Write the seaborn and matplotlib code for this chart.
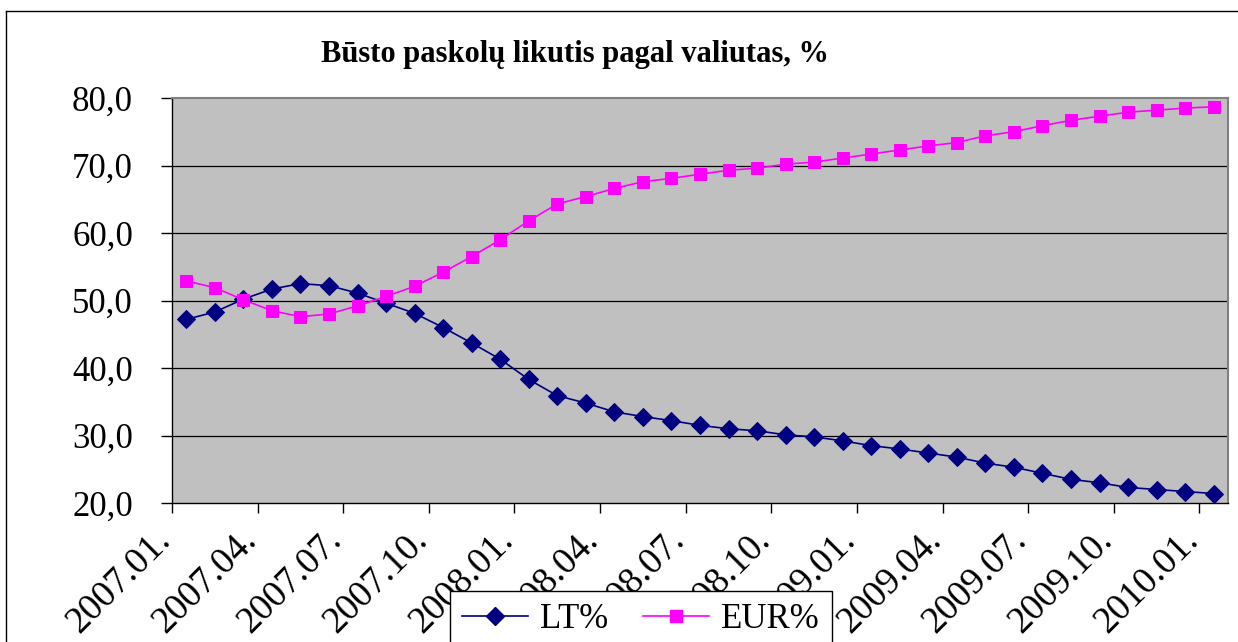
import matplotlib
matplotlib.use("Agg")
import matplotlib.pyplot as plt
from matplotlib.lines import Line2D
import numpy as np
import pandas as pd
import seaborn as sns

title = "Būsto paskolų likutis pagal valiutas, %"
series_names = ["LT%", "EUR%"]
tick_labels = ["2007.01.", "2007.04.", "2007.07.", "2007.10.", "2008.01.", "2008.04.",
               "2008.07.", "2008.10.", "2009.01.", "2009.04.", "2009.07.", "2009.10.",
               "2010.01."]
lt_values = [47.2, 48.3, 50.2, 51.7, 52.5, 52.2, 51.1, 49.6, 48.1, 46.0, 43.7, 41.3,
             38.3, 35.9, 34.8, 33.5, 32.8, 32.2, 31.5, 31.0, 30.7, 30.1, 29.8, 29.2,
             28.5, 28.0, 27.4, 26.8, 25.9, 25.3, 24.4, 23.5, 23.0, 22.3, 22.0, 21.7, 21.4]
eur_values = [52.9, 51.9, 50.1, 48.5, 47.6, 48.0, 49.2, 50.6, 52.1, 54.2, 56.5, 59.0,
              61.8, 64.3, 65.4, 66.6, 67.6, 68.1, 68.7, 69.3, 69.6, 70.2, 70.5, 71.1,
              71.7, 72.3, 72.9, 73.4, 74.4, 75.0, 75.9, 76.7, 77.3, 77.9, 78.2, 78.5, 78.7]
y_ticks = [20, 30, 40, 50, 60, 70, 80]

plt.rcParams['font.family'] = ['Liberation Serif', 'DejaVu Serif']

W, H = 1238, 642
fig = plt.figure(figsize=(W / 100, H / 100), dpi=100)
fig.patch.set_facecolor("white")
ax = fig.add_axes([172 / W, 1 - 503 / H, (1228 - 172) / W, (503 - 98) / H])
ax.set_facecolor("#C0C0C0")

idx = np.arange(len(lt_values))
df = pd.DataFrame({"idx": idx, "LT": lt_values, "EUR": eur_values})

sns.lineplot(data=df, x="idx", y="LT", ax=ax, color="#000080", marker="D",
             markersize=9, markeredgecolor="#000080", markerfacecolor="#000080",
             linewidth=1.2, label=series_names[0], legend=False, zorder=3)
sns.lineplot(data=df, x="idx", y="EUR", ax=ax, color="#FF00FF", marker="s",
             markersize=9, markeredgecolor="#FF00FF", markerfacecolor="#FF00FF",
             linewidth=1.2, label=series_names[1], legend=False, zorder=3)

ax.set_xlim(-0.5, len(lt_values) - 0.5)
ax.set_ylim(20, 80)
ax.set_xlabel("")
ax.set_ylabel("")

ax.set_yticks(y_ticks)
ax.set_yticklabels([f"{v:.1f}".replace(".", ",") for v in y_ticks], fontsize=25)
xt = np.arange(-0.5, len(lt_values), 3)
ax.set_xticks(xt)
ax.set_xticklabels(tick_labels, fontsize=27, rotation=45, ha="right", va="baseline",
                   rotation_mode="anchor")

ax.tick_params(axis="y", length=8, width=1, color="black", pad=20, direction="out")
ax.tick_params(axis="x", length=7.5, width=1, color="black", pad=20, direction="out")

for v in y_ticks[1:-1]:
    ax.axhline(v, color="black", linewidth=0.9, zorder=1)
ax.grid(False)

ax.spines["left"].set_color("black")
ax.spines["bottom"].set_color("black")
ax.spines["left"].set_linewidth(1)
ax.spines["bottom"].set_linewidth(1)
ax.spines["top"].set_color("#808080")
ax.spines["right"].set_color("#808080")
ax.spines["top"].set_linewidth(1.5)
ax.spines["right"].set_linewidth(1.5)

fig.text(575 / W, 1 - 62 / H, title, fontsize=22, fontweight="bold",
         ha="center", va="baseline")

handles = [Line2D([], [], color="#000080", marker="D", markersize=9, linewidth=1.2),
           Line2D([], [], color="#FF00FF", marker="s", markersize=9, linewidth=1.2)]
leg = fig.legend(handles, series_names, loc="upper left",
                 bbox_to_anchor=(450 / W, 1 - 591 / H), ncol=2, fontsize=25,
                 frameon=True, fancybox=False, framealpha=1, edgecolor="black",
                 handlelength=1.9, columnspacing=1.0, handletextpad=0.35,
                 borderpad=0.35, borderaxespad=0)
leg.get_frame().set_linewidth(1)

# outer chart border (cropped at right and bottom)
fig.add_artist(Line2D([6 / W, 6 / W], [1 - 11 / H, -0.05], transform=fig.transFigure,
                      color="black", linewidth=1))
fig.add_artist(Line2D([6 / W, 1.05], [1 - 11 / H, 1 - 11 / H], transform=fig.transFigure,
                      color="black", linewidth=1))

fig.savefig("out.png", dpi=100)
